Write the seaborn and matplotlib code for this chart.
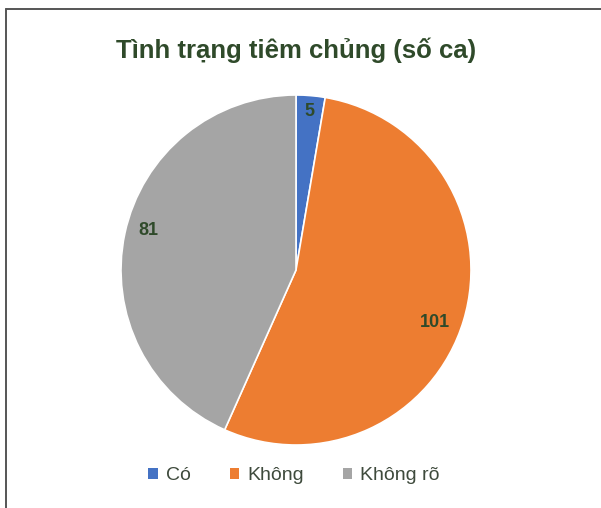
import matplotlib
matplotlib.use("Agg")
import matplotlib.pyplot as plt
from matplotlib.lines import Line2D
from matplotlib.patches import Patch
import numpy as np
import seaborn as sns

# Vaccination status, number of cases
categories = ["Có", "Không", "Không rõ"]
cases = [5, 101, 81]
slice_colors = ["#4472C4", "#ED7D31", "#A5A5A5"]
title_text = "Tình trạng tiêm chủng (số ca)"

sns.set_theme(style="white")
plt.rcParams["font.family"] = ["Liberation Sans", "DejaVu Sans"]

text_green = "#2F4A2A"
legend_text = "#3E4A3C"

fig = plt.figure(figsize=(6.01, 5.08), dpi=100)
fig.patch.set_facecolor("white")

ax = fig.add_axes([121 / 601, 63 / 508, 350 / 601, 350 / 508])
wedges, _ = ax.pie(
    cases,
    colors=slice_colors,
    startangle=90,
    counterclock=False,
    radius=1.0,
    wedgeprops=dict(edgecolor="white", linewidth=1.2),
)
ax.set_xlim(-1, 1)
ax.set_ylim(-1, 1)
ax.set_aspect("equal")
ax.axis("off")

# value labels inside each slice: radial distance and small angular nudge
label_r = [0.91, 0.85, 0.875]
label_shift = [0.0, -4.0, -3.0]
total = sum(cases)
start = 90.0
for val, r, shift in zip(cases, label_r, label_shift):
    sweep = val / total * 360.0
    mid = np.deg2rad(start - sweep / 2 + shift)
    ax.text(r * np.cos(mid), r * np.sin(mid), str(val),
            ha="center", va="center", fontsize=13, fontweight="bold",
            color=text_green)
    start -= sweep

fig.text(296 / 601, 1 - 50 / 508, title_text, ha="center", va="center",
         fontsize=18.5, fontweight="bold", color=text_green)

handles = [Patch(facecolor=c, edgecolor="none") for c in slice_colors]
leg = fig.legend(handles, categories, loc="center", ncol=3,
                 bbox_to_anchor=(294 / 601, 1 - 476 / 508), frameon=False,
                 fontsize=14, handlelength=0.5, handleheight=0.5,
                 handletextpad=0.4, columnspacing=2.0)
for t in leg.get_texts():
    t.set_color(legend_text)

# frame lines along the top and left edges
fig.add_artist(Line2D([5.5 / 601, 5.5 / 601], [0, 1 - 8.5 / 508],
                      transform=fig.transFigure, color="#555555", linewidth=1.4))
fig.add_artist(Line2D([5.5 / 601, 1], [1 - 8.5 / 508, 1 - 8.5 / 508],
                      transform=fig.transFigure, color="#555555", linewidth=1.4))

fig.savefig("out.png", dpi=100, facecolor="white")
